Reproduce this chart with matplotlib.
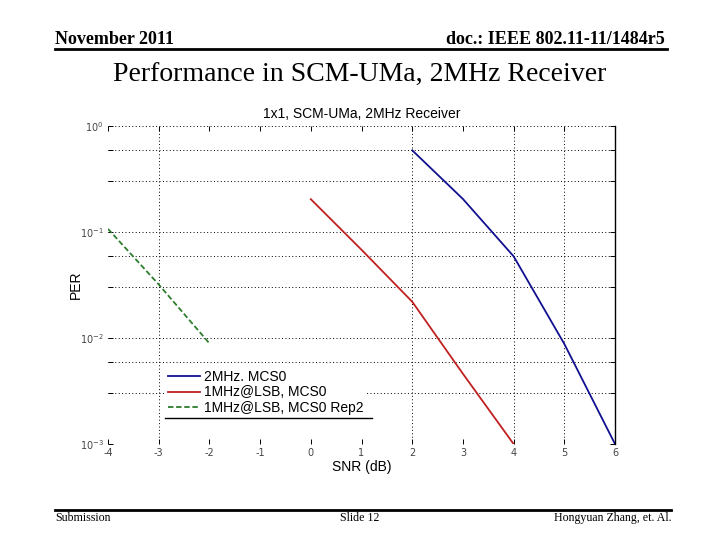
# PER vs SNR curves for the SCM-UMa channel, 2MHz receiver (slide 12).

import matplotlib
matplotlib.use('Agg')
import matplotlib.pyplot as plt
from matplotlib.ticker import LogLocator, NullLocator, NullFormatter

plt.rcParams['axes.unicode_minus'] = False

SERIF = 'Liberation Serif'
SANS = 'Liberation Sans'

# Curves
snr_2mhz = [2, 3, 4, 5, 6]
per_2mhz = [0.59, 0.205, 0.059, 0.0088, 0.001]

snr_1mhz = [0, 1, 2, 3, 4]
per_1mhz = [0.204, 0.068, 0.022, 0.0046, 0.001]

snr_1mhz_rep2 = [-4, -3, -2]
per_1mhz_rep2 = [0.107, 0.032, 0.0089]

labels = ['2MHz. MCS0', '1MHz@LSB, MCS0', '1MHz@LSB, MCS0 Rep2']
xticks = [-4, -3, -2, -1, 0, 1, 2, 3, 4, 5, 6]
vgrid_at = [-3, 2, 4, 5]  # only these vertical grid lines show on the slide

fig = plt.figure(figsize=(7.2, 5.4), dpi=100)
fig.patch.set_facecolor('white')

# ---- slide header / footer -------------------------------------------
fig.text(55/720, 1-40/540, 'November 2011', family=SERIF, weight='bold',
         fontsize=13, ha='left', va='center')
fig.text(665/720, 1-40/540, 'doc.: IEEE 802.11-11/1484r5', family=SERIF,
         weight='bold', fontsize=13, ha='right', va='center')
fig.add_artist(plt.Line2D([55/720, 667/720], [1-49/540, 1-49/540],
                          color='black', lw=2))
fig.text(360/720, 1-75/540, 'Performance in SCM-UMa, 2MHz Receiver',
         family=SERIF, fontsize=20, ha='center', va='center')

fig.add_artist(plt.Line2D([55/720, 671/720], [1-510/540, 1-510/540],
                          color='black', lw=2))
fig.text(55/720, 1-518/540, 'Submission', family=SERIF, fontsize=8.6,
         ha='left', va='center')
fig.text(360/720, 1-518/540, 'Slide 12', family=SERIF, fontsize=8.6,
         ha='center', va='center')
fig.text(671/720, 1-518/540, 'Hongyuan Zhang, et. Al.', family=SERIF,
         fontsize=8.6, ha='right', va='center')

# ---- the plot ----------------------------------------------------------
ax = fig.add_axes([108/720, 1-444/540, 507/720, 318/540])
ax.set_yscale('log')
ax.set_xlim(-4, 6)
ax.set_ylim(1e-3, 1)

ax.plot(snr_2mhz, per_2mhz, color='#101090', lw=1.3, label=labels[0])
ax.plot(snr_1mhz, per_1mhz, color='#c02020', lw=1.3, label=labels[1])
ax.plot(snr_1mhz_rep2, per_1mhz_rep2, color='#2d7d2d', lw=1.3,
        linestyle=(0, (3, 1.5)), label=labels[2])

# grid
dots = (0, (1, 2.5))
ax.yaxis.set_major_locator(LogLocator(base=10, numticks=10))
ax.yaxis.set_minor_locator(LogLocator(base=10, subs=(0.3, 0.6), numticks=10))
ax.yaxis.set_minor_formatter(NullFormatter())
ax.yaxis.grid(True, which='both', color='black', lw=0.7, linestyle=dots)
for xv in vgrid_at:
    ax.axvline(xv, color='black', lw=0.7, linestyle=dots, zorder=1)

ax.set_xticks(xticks)
ax.xaxis.set_minor_locator(NullLocator())
ax.tick_params(which='both', direction='in', top=True, right=True,
               length=3.5, width=0.7, labelsize=7, labelcolor='#444444',
               pad=3)

for side in ['left', 'top', 'bottom']:
    ax.spines[side].set_visible(False)
ax.spines['right'].set_linewidth(1.0)

ax.set_title('1x1, SCM-UMa, 2MHz Receiver', family=SANS, fontsize=10,
             pad=6)
ax.set_xlabel('SNR (dB)', family=SANS, fontsize=10, labelpad=1)
ax.set_ylabel('PER', family=SANS, fontsize=10, labelpad=-2)

leg = ax.legend(loc='lower left', bbox_to_anchor=(0.112, 0.082),
                borderaxespad=0, prop={'family': SANS, 'size': 10},
                handlelength=2.3, handletextpad=0.35, labelspacing=0.12,
                borderpad=0.2, fancybox=False, framealpha=1)
leg.get_frame().set_facecolor('white')
leg.get_frame().set_edgecolor('none')
leg.set_zorder(5)
ax.plot([0.112, 0.521], [0.082, 0.082], transform=ax.transAxes,
        color='black', lw=1, zorder=6, clip_on=False)

plt.savefig('out.png', dpi=100)
